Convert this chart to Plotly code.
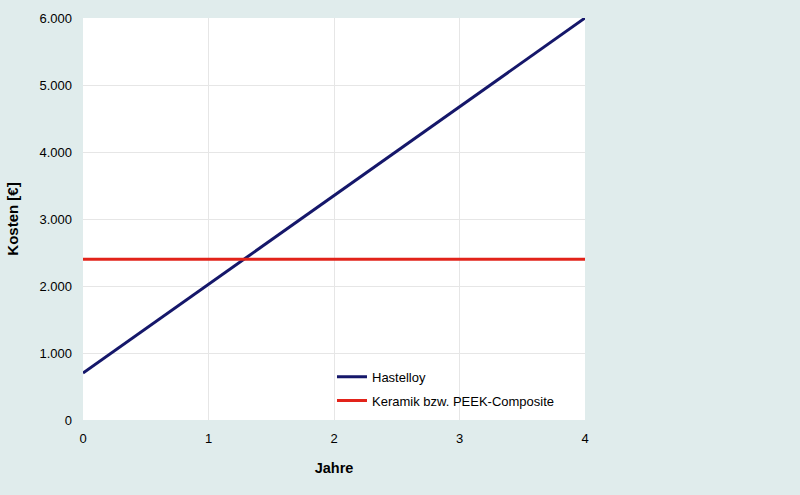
import plotly.graph_objects as go

years = [0, 4]
hastelloy = [700, 6000]
keramik = [2400, 2400]
names = ["Hastelloy", "Keramik bzw. PEEK-Composite"]

fig = go.Figure()
fig.add_trace(go.Scatter(x=years, y=hastelloy, mode="lines", name=names[0],
                         legendgroup="a",
                         line=dict(color="#15176a", width=3)))
fig.add_trace(go.Scatter(x=years, y=keramik, mode="lines", name=names[1],
                         legendgroup="b",
                         line=dict(color="#e2231a", width=3)))

fig.update_layout(
    width=800, height=495,
    paper_bgcolor="#e0ecec", plot_bgcolor="white",
    margin=dict(l=83, r=215, t=18, b=75),
    separators=",.",
    font=dict(family="Liberation Sans, Arial", size=13, color="black"),
    legend=dict(x=0.496, y=0.145, xanchor="left", yanchor="top",
                bgcolor="rgba(0,0,0,0)", font=dict(size=13),
                traceorder="grouped", tracegroupgap=4),
    xaxis=dict(range=[0, 4], dtick=1, showgrid=True, gridcolor="#e6e6e6",
               zeroline=False, showline=False, ticks="", ticklabelstandoff=9,
               automargin=False,
               title=dict(text="<b>Jahre</b>", standoff=17, font=dict(size=14.5))),
    yaxis=dict(range=[0, 6000], dtick=1000, tickformat=",", showgrid=True,
               gridcolor="#e6e6e6", zeroline=False, showline=False, ticks="",
               ticklabelstandoff=10, automargin=False,
               title=dict(text="<b>Kosten [€]</b>", standoff=17, font=dict(size=15))),
)
fig.write_html("out.html")
